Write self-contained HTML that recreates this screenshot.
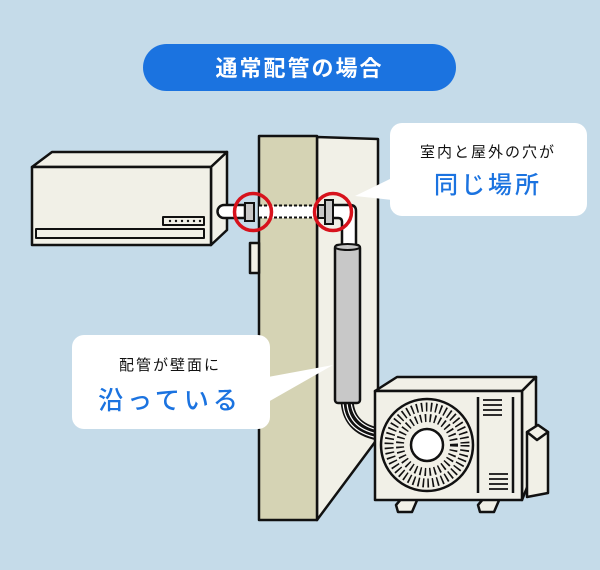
<!DOCTYPE html>
<html><head><meta charset="utf-8"><style>
html,body{margin:0;padding:0;width:600px;height:570px;overflow:hidden;background:#c5dbe9}
svg{display:block}
text{font-family:"Liberation Sans","Noto Sans CJK JP",sans-serif}
</style></head><body>
<svg width="600" height="570" viewBox="0 0 600 570" xmlns="http://www.w3.org/2000/svg">
<rect width="600" height="570" fill="#c5dbe9"/>
<rect x="143" y="44" width="313" height="47" rx="23.5" fill="#1b73e0"/>
<text x="299.5" y="76" font-size="22" font-weight="bold" fill="#fff" text-anchor="middle" letter-spacing="2">通常配管の場合</text>
<g stroke="#111" stroke-width="2.5" stroke-linejoin="round">
<polygon points="317,137 378,139 378,438 317,520" fill="#f1f0e7"/>
<rect x="259" y="136" width="58" height="384" fill="#d5d3b4"/>
<rect x="250" y="243" width="9" height="30" fill="#f1f0e7"/>
</g>
<g stroke="#111" stroke-width="2.5" stroke-linejoin="round" fill="#f1f0e7">
<polygon points="32,167 52,152 227,152 211,167"/>
<polygon points="211,167 227,152 227,230 211,245"/>
<rect x="32" y="167" width="179" height="78"/>
<rect x="163" y="217" width="41" height="8" stroke-width="2"/>
<rect x="36" y="229" width="168" height="9" stroke-width="2"/>
</g>
<g fill="#111"><circle cx="170" cy="221" r="1.2"/><circle cx="176" cy="221" r="1.2"/><circle cx="182" cy="221" r="1.2"/><circle cx="188" cy="221" r="1.2"/><circle cx="194" cy="221" r="1.2"/><circle cx="200" cy="221" r="1.2"/></g>
<path d="M224,205 H245 V218 H224 A6.5,6.5 0 0 1 224,205 Z" fill="#fff" stroke="#111" stroke-width="2.5"/>
<rect x="259" y="206" width="58" height="12" fill="#fff"/>
<line x1="259" y1="205.5" x2="330" y2="205.5" stroke="#111" stroke-width="2" stroke-dasharray="3,2"/>
<line x1="259" y1="217.5" x2="330" y2="217.5" stroke="#111" stroke-width="2" stroke-dasharray="3,2"/>
<path d="M330,205 H350 Q356,205 356,211 V245 H342 V222 Q342,218 338,218 H330 Z" fill="#fff" stroke="#111" stroke-width="2.5"/>
<rect x="245" y="203" width="9" height="18" fill="#c8c8c8" stroke="#111" stroke-width="2"/>
<rect x="325" y="200" width="8" height="24" fill="#c8c8c8" stroke="#111" stroke-width="2"/>
<rect x="318" y="205" width="7" height="13" fill="#c8c8c8" stroke="#111" stroke-width="2"/>
<g fill="none" stroke="#111" stroke-width="13"><path d="M347,398 Q347,428 378,434"/></g>
<g fill="none" stroke="#fff" stroke-width="1.2"><path d="M343,400 Q343,431 378,438"/><path d="M347,400 Q347,428 378,434"/><path d="M351,400 Q352,424 378,430"/></g>
<rect x="335" y="245" width="25" height="158" rx="3" fill="#c8c8c8" stroke="#111" stroke-width="2.5"/>
<ellipse cx="347.5" cy="247" rx="12.5" ry="3" fill="#c8c8c8" stroke="#111" stroke-width="2"/>
<circle cx="253" cy="212" r="18.5" fill="none" stroke="#d7121c" stroke-width="3.5"/>
<circle cx="333" cy="212" r="18.5" fill="none" stroke="#d7121c" stroke-width="3.5"/>
<g stroke="#111" stroke-width="2.5" stroke-linejoin="round" fill="#f1f0e7">
<polygon points="396,505 402,498 418,498 412,512 398,512" />
<polygon points="478,505 484,498 500,498 494,512 480,512"/>
<polygon points="375,391 397,377 536,377 522,391"/>
<polygon points="522,391 536,377 536,465 522,500"/>
<rect x="375" y="391" width="147" height="109"/>
<polygon points="527,432 538,425 548,432 548,493 527,497"/>
<polygon points="527,432 538,425 548,432 537,440" />
</g>
<line x1="478" y1="397" x2="478" y2="493" stroke="#111" stroke-width="2.5"/>
<line x1="513" y1="397" x2="513" y2="493" stroke="#111" stroke-width="2.5"/>
<g stroke="#111" stroke-width="1.8"><line x1="483" y1="400" x2="502" y2="400"/><line x1="483" y1="405" x2="502" y2="405"/><line x1="483" y1="410" x2="502" y2="410"/><line x1="483" y1="415" x2="502" y2="415"/>
<line x1="489" y1="474" x2="508" y2="474"/><line x1="489" y1="479" x2="508" y2="479"/><line x1="489" y1="484" x2="508" y2="484"/><line x1="489" y1="489" x2="508" y2="489"/></g>
<circle cx="427" cy="445" r="46" fill="#f1f0e7" stroke="#111" stroke-width="2.5"/>
<circle cx="427" cy="445" r="38" fill="none" stroke="#111" stroke-width="9" stroke-dasharray="1.6,3.2"/>
<circle cx="427" cy="445" r="27" fill="none" stroke="#111" stroke-width="8" stroke-dasharray="1.6,3.2"/>
<circle cx="427" cy="445" r="16" fill="#fff" stroke="#111" stroke-width="2.5"/>
<rect x="390" y="123" width="197" height="93" rx="12" fill="#fff"/>
<polygon points="392,178 392,200 355,196" fill="#fff"/>
<text x="488" y="157" font-size="15" fill="#111" text-anchor="middle" letter-spacing="2">室内と屋外の穴が</text>
<text x="488" y="193" font-size="24" font-weight="500" fill="#1b73e0" text-anchor="middle" letter-spacing="3">同じ場所</text>
<rect x="72" y="335" width="198" height="94" rx="12" fill="#fff"/>
<polygon points="268,377 268,402 333,365" fill="#fff"/>
<text x="170" y="370" font-size="15" fill="#111" text-anchor="middle" letter-spacing="2">配管が壁面に</text>
<text x="170" y="409" font-size="25" font-weight="500" fill="#1b73e0" text-anchor="middle" letter-spacing="4">沿っている</text>
</svg>
</body></html>
